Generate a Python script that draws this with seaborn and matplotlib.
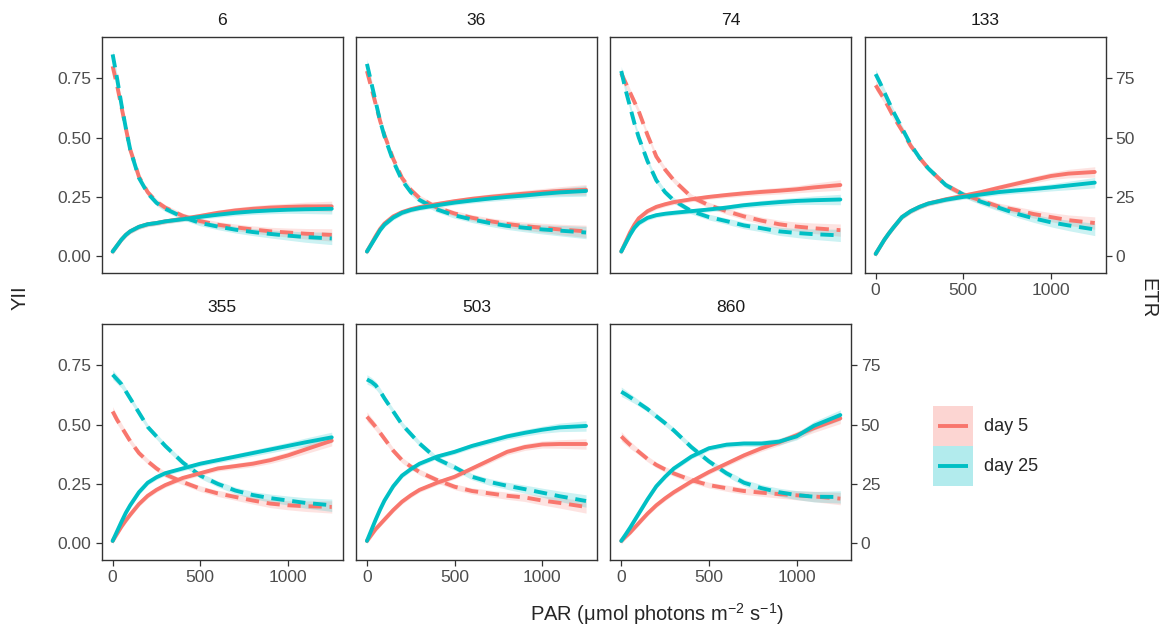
import matplotlib
matplotlib.use("Agg")
import numpy as np
import pandas as pd
import matplotlib.pyplot as plt
import seaborn as sns
from matplotlib.patches import Rectangle
from matplotlib.lines import Line2D

# ---------------- data ----------------
par = [0, 25, 50, 75, 100, 150, 200, 250, 300, 400, 500, 600, 700, 800, 900, 1000, 1100, 1250]
facets = [6, 36, 74, 133, 355, 503, 860]
days = ["day 5", "day 25"]

# YII (dashed) and ETR (solid) smooth curves, per facet and day
f6_yii_d5 = [0.80, 0.72, 0.63, 0.54, 0.45, 0.335, 0.27, 0.23, 0.205, 0.17, 0.148, 0.133, 0.122, 0.113, 0.105, 0.10, 0.095, 0.09]
f6_yii_d25 = [0.85, 0.75, 0.64, 0.54, 0.45, 0.33, 0.265, 0.225, 0.20, 0.165, 0.14, 0.125, 0.112, 0.102, 0.094, 0.087, 0.081, 0.075]
f6_etr_d5 = [2, 4.5, 7, 9, 10.5, 12.4, 13.5, 14, 14.7, 15.8, 17, 18.3, 19.3, 20, 20.5, 20.8, 21, 21]
f6_etr_d25 = [2, 4.5, 7, 9, 10.5, 12.4, 13.5, 14, 14.7, 15.6, 16.6, 17.5, 18.3, 18.9, 19.3, 19.6, 19.8, 20]

f36_yii_d5 = [0.78, 0.71, 0.64, 0.57, 0.51, 0.41, 0.33, 0.28, 0.245, 0.205, 0.18, 0.162, 0.148, 0.136, 0.127, 0.12, 0.113, 0.105]
f36_yii_d25 = [0.81, 0.73, 0.65, 0.57, 0.505, 0.40, 0.32, 0.27, 0.237, 0.197, 0.172, 0.155, 0.14, 0.128, 0.12, 0.113, 0.108, 0.10]
f36_etr_d5 = [2, 5.2, 8.5, 11.5, 13.8, 16.8, 18.6, 19.8, 20.7, 22, 23.2, 24.2, 25, 25.7, 26.4, 27, 27.5, 28]
f36_etr_d25 = [2, 5, 8, 11, 13.3, 16.3, 18.3, 19.5, 20.3, 21.5, 22.6, 23.5, 24.3, 25, 25.6, 26.3, 26.9, 27.5]

f74_yii_d5 = [0.77, 0.73, 0.69, 0.65, 0.61, 0.51, 0.42, 0.365, 0.32, 0.25, 0.215, 0.19, 0.168, 0.15, 0.135, 0.125, 0.118, 0.11]
f74_yii_d25 = [0.78, 0.70, 0.63, 0.56, 0.50, 0.40, 0.32, 0.27, 0.235, 0.19, 0.165, 0.148, 0.13, 0.118, 0.105, 0.098, 0.093, 0.088]
f74_etr_d5 = [2, 6, 10, 13.3, 16, 19, 20.8, 21.9, 22.8, 24, 25, 25.8, 26.5, 27.1, 27.6, 28.2, 29, 30]
f74_etr_d25 = [2, 5.5, 9, 12, 14, 16.2, 17.3, 17.9, 18.3, 19, 19.7, 20.5, 21.5, 22.2, 22.8, 23.3, 23.6, 23.9]

f133_yii_d5 = [0.72, 0.69, 0.66, 0.625, 0.59, 0.53, 0.465, 0.415, 0.37, 0.30, 0.26, 0.235, 0.21, 0.195, 0.178, 0.165, 0.152, 0.14]
f133_yii_d25 = [0.767, 0.73, 0.69, 0.65, 0.61, 0.54, 0.47, 0.415, 0.37, 0.30, 0.26, 0.23, 0.205, 0.18, 0.16, 0.143, 0.13, 0.113]
f133_etr_d5 = [1, 4, 7, 9.6, 12, 16.5, 19, 20.8, 22.2, 24, 25.5, 27, 28.8, 30.5, 32.2, 33.8, 34.8, 35.5]
f133_etr_d25 = [1, 4, 7, 9.6, 12, 16.5, 19, 20.8, 22.2, 23.8, 25, 26, 27, 27.7, 28.3, 29, 29.8, 31]

f355_yii_d5 = [0.555, 0.52, 0.49, 0.46, 0.43, 0.38, 0.345, 0.315, 0.29, 0.258, 0.23, 0.21, 0.195, 0.18, 0.167, 0.16, 0.156, 0.153]
f355_yii_d25 = [0.71, 0.69, 0.67, 0.64, 0.61, 0.55, 0.49, 0.45, 0.41, 0.34, 0.285, 0.25, 0.222, 0.203, 0.19, 0.18, 0.17, 0.16]
f355_etr_d5 = [1, 4, 7, 9.6, 12, 16.5, 20, 22.5, 24.5, 27.5, 29.5, 31.5, 32.5, 33.5, 35, 37, 39.5, 43.2]
f355_etr_d25 = [1, 5, 9, 12.8, 16, 21.5, 25.5, 27.8, 29.5, 31.5, 33.5, 35, 36.5, 38, 39.5, 41, 42.5, 44.6]

f503_yii_d5 = [0.533, 0.512, 0.49, 0.465, 0.44, 0.39, 0.35, 0.323, 0.30, 0.266, 0.238, 0.22, 0.21, 0.20, 0.193, 0.18, 0.17, 0.153]
f503_yii_d25 = [0.69, 0.68, 0.665, 0.64, 0.61, 0.555, 0.50, 0.46, 0.42, 0.355, 0.32, 0.28, 0.258, 0.242, 0.228, 0.213, 0.198, 0.178]
f503_etr_d5 = [1, 3.5, 6, 8, 10, 14, 17.5, 20.2, 22.5, 25.5, 28, 31.5, 35, 38.5, 40.5, 41.6, 41.8, 41.8]
f503_etr_d25 = [1, 5.5, 10, 14.2, 18, 24, 28.5, 31.2, 33.5, 36.5, 38.5, 41, 43, 45, 46.5, 47.8, 48.8, 49.4]

f860_yii_d5 = [0.45, 0.432, 0.415, 0.40, 0.385, 0.355, 0.33, 0.311, 0.294, 0.266, 0.245, 0.232, 0.22, 0.213, 0.207, 0.202, 0.197, 0.188]
f860_yii_d25 = [0.638, 0.627, 0.615, 0.603, 0.59, 0.565, 0.535, 0.506, 0.475, 0.405, 0.345, 0.295, 0.255, 0.232, 0.215, 0.203, 0.196, 0.195]
f860_etr_d5 = [1, 2.8, 4.5, 6.5, 8.5, 12.5, 16, 18.9, 21.5, 26, 30, 33.5, 37, 40, 42.5, 45.5, 48.5, 52.6]
f860_etr_d25 = [1, 3.7, 6.5, 9.5, 12.5, 18.5, 24, 28, 31.5, 36.5, 40, 41.5, 42, 42, 42.8, 45, 49.5, 54]

# half-width of the confidence ribbons
band_yii = [0.02, 0.018, 0.016, 0.014, 0.013, 0.012, 0.012, 0.012, 0.012, 0.012, 0.012, 0.013, 0.014, 0.015, 0.017, 0.019, 0.022, 0.026]
band_etr = [1.2, 1.1, 1.0, 1.0, 1.0, 1.0, 1.0, 1.0, 1.0, 1.0, 1.0, 1.1, 1.2, 1.3, 1.4, 1.5, 1.8, 2.2]

series = {
    6: (f6_yii_d5, f6_yii_d25, f6_etr_d5, f6_etr_d25),
    36: (f36_yii_d5, f36_yii_d25, f36_etr_d5, f36_etr_d25),
    74: (f74_yii_d5, f74_yii_d25, f74_etr_d5, f74_etr_d25),
    133: (f133_yii_d5, f133_yii_d25, f133_etr_d5, f133_etr_d25),
    355: (f355_yii_d5, f355_yii_d25, f355_etr_d5, f355_etr_d25),
    503: (f503_yii_d5, f503_yii_d25, f503_etr_d5, f503_etr_d25),
    860: (f860_yii_d5, f860_yii_d25, f860_etr_d5, f860_etr_d25),
}

rows = []
for f in facets:
    y5, y25, e5, e25 = series[f]
    for day, yv, ev in ((days[0], y5, e5), (days[1], y25, e25)):
        for p, y, e, by, be in zip(par, yv, ev, band_yii, band_etr):
            rows.append(dict(facet=f, day=day, PAR=p, YII=y, ETR=e,
                             YII_lo=y - by, YII_hi=y + by, ETR_lo=e - be, ETR_hi=e + be))
df = pd.DataFrame(rows)

# ---------------- style ----------------
sns.set_theme(style="white")
plt.rcParams['font.family'] = ['Liberation Sans', 'DejaVu Sans']
plt.rcParams['mathtext.fontset'] = 'custom'
plt.rcParams['mathtext.rm'] = 'Liberation Sans'
plt.rcParams['mathtext.it'] = 'Liberation Sans:italic'

palette = {"day 5": "#F8766D", "day 25": "#00BFC4"}
W, H = 1171, 631
fig = plt.figure(figsize=(W / 100, H / 100), dpi=100)

lefts = [101.7, 356.0, 610.3, 864.7]
tops = [37.3, 324.3]
pw, ph = 241.0, 235.6
ylo, yhi = -0.070, 0.922
lw = 2.8
dash = (0, (3.4, 2.0))
tick_kw = dict(direction='out', length=4.3, width=0.9, color='#333333',
               labelcolor='#4D4D4D', labelsize=12.6)

for i, f in enumerate(facets):
    r, c = divmod(i, 4)
    ax = fig.add_axes([lefts[c] / W, 1 - (tops[r] + ph) / H, pw / W, ph / H])
    ax2 = ax.twinx()
    sub = df[df.facet == f]
    for day in days:
        d = sub[sub.day == day]
        ax.fill_between(d.PAR, d.YII_lo, d.YII_hi, color=palette[day], alpha=0.2, lw=0)
        ax2.fill_between(d.PAR, d.ETR_lo, d.ETR_hi, color=palette[day], alpha=0.2, lw=0)
    sns.lineplot(data=sub, x="PAR", y="YII", hue="day", hue_order=days, palette=palette,
                 ax=ax, legend=False, errorbar=None, linewidth=lw, linestyle=dash)
    sns.lineplot(data=sub, x="PAR", y="ETR", hue="day", hue_order=days, palette=palette,
                 ax=ax2, legend=False, errorbar=None, linewidth=lw)
    ax.set_xlim(-62.5, 1312.5)
    ax.set_ylim(ylo, yhi)
    ax2.set_ylim(ylo * 100, yhi * 100)
    ax.set_xlabel("")
    ax.set_ylabel("")
    ax2.set_ylabel("")
    ax.set_xticks([0, 500, 1000])
    ax.set_xticklabels(["0", "500", "1000"])
    ax.set_yticks([0, 0.25, 0.5, 0.75])
    ax.set_yticklabels(["0.00", "0.25", "0.50", "0.75"])
    ax2.set_yticks([0, 25, 50, 75])
    ax2.set_yticklabels(["0", "25", "50", "75"])
    ax.tick_params(axis='both', pad=3, **tick_kw)
    ax2.tick_params(axis='y', pad=2.5, **tick_kw)
    show_x = (r == 1) or (c == 3)
    ax.tick_params(axis='x', bottom=show_x, labelbottom=show_x)
    ax.tick_params(axis='y', left=(c == 0), labelleft=(c == 0))
    is_right = (c == 3) or (f == facets[-1])
    ax2.tick_params(axis='y', right=is_right, labelright=is_right, left=False, labelleft=False)
    for s in ax.spines.values():
        s.set_color('#333333')
        s.set_linewidth(1.0)
    for s in ax2.spines.values():
        s.set_visible(False)
    ax.set_title(str(f), fontsize=12.6, color='#1A1A1A', pad=8.8)

# axis titles
fig.text(20 / W, 1 - 298 / H, "YII", rotation=90, ha='center', va='center', fontsize=14.5)
fig.text(1148 / W, 1 - 298 / H, "ETR", rotation=-90, ha='center', va='center', fontsize=14.5)
fig.text(657 / W, 1 - 614 / H, "PAR (μmol photons m$^{-2}$ s$^{-1}$)", ha='center', va='center',
         fontsize=14.5)


# legend: ggplot-style key (shaded square + line)
class KeyProxy:
    def __init__(self, color):
        self.color = color


class KeyHandler:
    def legend_artist(self, legend, orig_handle, fontsize, handlebox):
        x0, y0 = -handlebox.xdescent, -handlebox.ydescent
        w, h = handlebox.width, handlebox.height
        tr = handlebox.get_transform()
        rect = Rectangle((x0, y0), w, h, facecolor=orig_handle.color, alpha=0.3,
                         edgecolor='none', transform=tr)
        line = Line2D([x0 + 0.12 * w, x0 + 0.88 * w], [y0 + h / 2, y0 + h / 2],
                      color=orig_handle.color, lw=lw, solid_capstyle='butt', transform=tr)
        handlebox.add_artist(rect)
        handlebox.add_artist(line)
        return rect


handles = [KeyProxy(palette[d]) for d in days]
fig.legend(handles, days, handler_map={KeyProxy: KeyHandler()},
           loc='upper left', bbox_to_anchor=(933 / W, 1 - 406 / H), frameon=False,
           handlelength=2.2, handleheight=3.04, labelspacing=0, borderpad=0,
           borderaxespad=0, handletextpad=0.65, fontsize=13)

fig.savefig("out.png", dpi=100)
